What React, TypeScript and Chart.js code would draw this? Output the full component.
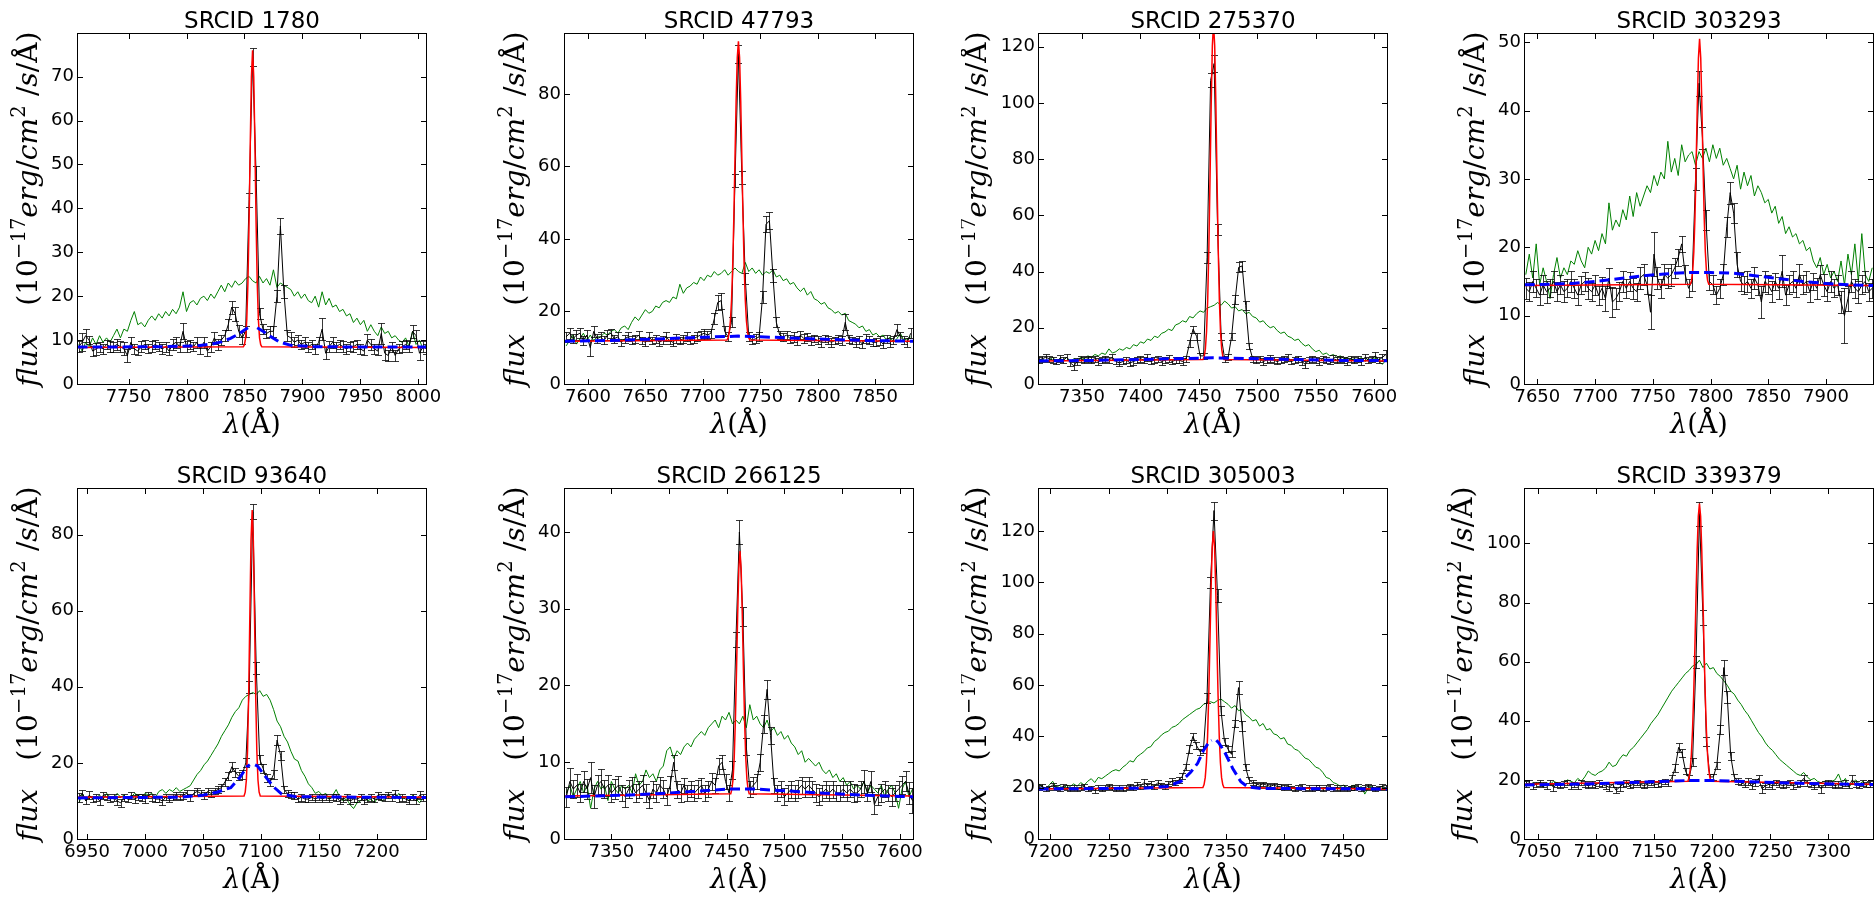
import React, { useEffect, useRef } from 'react';
import { Chart, registerables } from 'chart.js';

Chart.register(...registerables);

// ---------------- data ----------------
const STEP = 3; // wavelength sampling of the observed spectra (Å)

// Panel 1
const P1_TITLE = 'SRCID 1780';
const P1_X_RANGE = [7706.4, 8006.6];
const P1_Y_MAX = 79.7;
const P1_X_TICKS = [7750, 7800, 7850, 7900, 7950, 8000];
const P1_Y_TICKS = [0, 10, 20, 30, 40, 50, 60, 70];
const P1_START = 7707;
const P1_BLACK = [8.5, 9.5, 11, 10, 7.5, 8, 8.5, 8, 9, 8.5,
  8.5, 9, 8.5, 8, 6.5, 9.5, 8, 7.5, 8.5, 9,
  8, 8.5, 9, 8.5, 8, 8.5, 7.5, 9, 9.5, 8.5,
  12, 8.5, 9, 8.5, 9.5, 8, 9.5, 7.5, 8.5, 10.5,
  9, 10, 11, 13.5, 17.5, 16, 12, 10.5, 12, 42,
  74.5, 48, 16, 12.5, 11.5, 12, 12, 20, 36, 21,
  11, 10.5, 9.5, 10, 9, 9.5, 8.5, 9, 8, 9.5,
  12.5, 7, 8.5, 9.5, 8.5, 9, 8.5, 8, 8.5, 8.5,
  9, 8, 7.5, 10, 9, 8, 7.5, 11.5, 7, 6.5,
  8.5, 6.5, 8, 8.5, 9, 8.5, 12, 11, 7, 8.5, 8];
const P1_ERR = [1.2, 2.0, 1.5, 1.0, 1.2, 1.3, 1.1, 1.2, 1.0, 1.2,
  1.1, 1.3, 1.2, 1.5, 1.4, 1.2, 1.1, 1.0, 1.2, 1.1,
  1.0, 1.2, 1.1, 1.0, 1.2, 1.1, 1.0, 1.2, 1.3, 1.1,
  1.8, 1.2, 1.1, 1.0, 1.2, 1.1, 1.3, 1.2, 1.1, 1.4,
  1.2, 1.1, 1.2, 1.3, 1.5, 1.6, 1.4, 1.3, 1.2, 1.6,
  2.0, 1.6, 1.3, 1.2, 1.1, 1.2, 1.3, 1.3, 1.8, 1.5,
  1.2, 1.3, 1.1, 1.2, 1.0, 1.2, 1.1, 1.0, 1.2, 1.1,
  2.5, 1.4, 1.2, 1.3, 1.1, 1.0, 1.2, 1.1, 1.0, 1.2,
  1.1, 1.2, 1.0, 1.3, 1.2, 1.1, 1.0, 2.5, 1.5, 1.2,
  1.1, 1.3, 1.0, 1.2, 1.1, 1.2, 1.5, 1.3, 1.6, 1.2, 1.1];
const P1_GREEN = [9, 7.5, 9.5, 8.5, 10.5, 9, 11, 9.5, 10.5, 9.5,
  11, 12.5, 10.5, 12.5, 12, 14.5, 16.5, 13.5, 14, 13,
  14.5, 15.5, 14.5, 16, 15, 16.5, 15.5, 17, 16, 17.5,
  21, 16.5, 18.5, 19, 18, 19.5, 20, 19, 20.5, 19.5,
  21, 22.5, 21, 23, 22, 23.5, 22.5, 23, 24, 24.5,
  23.5, 23, 24.5, 23, 24, 22.5, 26, 22, 23, 22.5,
  22, 21.5, 20, 21, 19.5, 20.5, 19, 18.5, 20, 17.5,
  21, 18, 19.5, 17.5, 18, 16.5, 17, 15.5, 16, 14,
  15, 13.5, 14.5, 12, 13.5, 12, 11, 13, 11.5, 12,
  10.5, 11, 10, 9.5, 10.5, 8.5, 12, 9, 10, 8, 9];
const P1_RED_X = [7706, 7849, 7850, 7851, 7852, 7853, 7854, 7855, 7856, 7857, 7858, 7859, 7860, 7861, 7862, 7863, 7864, 7865, 8007];
const P1_RED_Y = [8.3, 8.46, 8.96, 10.5, 14.7, 23.2, 37.2, 54.7, 69.9, 76.0, 69.9, 54.7, 37.2, 23.2, 14.7, 10.5, 8.96, 8.46, 8.3];
const P1_BLUE_X = [7706, 7780, 7810, 7822, 7830, 7838, 7845, 7850, 7853, 7857, 7861, 7866, 7872, 7880, 7890, 7910, 7960, 8007];
const P1_BLUE_Y = [8.4, 8.5, 8.7, 9.1, 9.6, 10.4, 11.4, 12.3, 12.8, null, 12.8, 12.0, 10.9, 9.6, 8.8, 8.5, 8.4, 8.4];

// Panel 2
const P2_TITLE = 'SRCID 47793';
const P2_X_RANGE = [7580, 7883];
const P2_Y_MAX = 96.5;
const P2_X_TICKS = [7600, 7650, 7700, 7750, 7800, 7850];
const P2_Y_TICKS = [0, 20, 40, 60, 80];
const P2_START = 7581;
const P2_BLACK = [13, 14, 12.5, 13.5, 14, 12, 13.5, 10, 14.5, 12.5,
  13, 12, 13.5, 14, 12.5, 13, 11.5, 12.5, 13, 12,
  12.5, 13.5, 12, 11.5, 13, 12, 12.5, 11.5, 12, 13,
  12, 11.5, 12.5, 12, 12.5, 13, 12, 12.5, 13, 13.5,
  14, 13.5, 14, 18, 22.5, 23, 14.5, 13, 17, 56,
  91, 57, 29, 13, 12, 12.5, 13, 24, 44, 45,
  30, 17, 13.5, 13, 13.5, 12.5, 13, 12, 13.5, 12.5,
  13, 12, 12.5, 12, 11.5, 12.5, 12, 11.5, 12, 12.5,
  12, 17, 12.5, 12, 11.5, 12, 11, 12.5, 12, 11.5,
  11.5, 12, 11, 12.5, 11.5, 12, 15, 13, 12, 11.5, 14];
const P2_ERR = [1.3, 1.5, 1.2, 1.3, 1.4, 1.2, 1.3, 2.2, 1.5, 1.2,
  1.2, 1.1, 1.3, 1.2, 1.1, 1.2, 1.0, 1.1, 1.2, 1.1,
  1.1, 1.2, 1.0, 1.1, 1.2, 1.0, 1.1, 1.0, 1.1, 1.2,
  1.0, 1.1, 1.2, 1.0, 1.1, 1.2, 1.0, 1.1, 1.2, 1.1,
  1.2, 1.1, 1.2, 1.5, 2.0, 2.2, 1.4, 1.2, 1.4, 1.8,
  2.5, 1.8, 1.5, 1.2, 1.1, 1.2, 1.2, 1.6, 2.2, 2.4,
  1.8, 1.4, 1.2, 1.1, 1.2, 1.1, 1.3, 1.2, 1.1, 1.2,
  1.1, 1.2, 1.0, 1.1, 1.2, 1.0, 1.1, 1.2, 1.0, 1.1,
  1.2, 2.2, 1.1, 1.0, 1.2, 1.1, 1.0, 1.2, 1.1, 1.0,
  1.1, 1.2, 1.0, 1.1, 1.2, 1.1, 1.6, 1.2, 1.1, 1.2, 1.4];
const P2_GREEN = [10.5, 12, 13.5, 11, 12.5, 14, 12, 13.5, 12, 13,
  13, 14, 13.5, 14.5, 15, 14, 15.5, 16, 15, 17,
  18.5, 17.5, 19, 20.5, 19.5, 20, 21.5, 21, 22.5, 23,
  22.5, 24, 23.5, 27.5, 25, 26.5, 27, 28, 27.5, 29.5,
  28.5, 30, 29.5, 31, 30, 30.5, 31.5, 30, 31, 32,
  31, 30.5, 33.5, 31, 32, 30.5, 31.5, 30, 31, 30.5,
  31.5, 29.5, 30, 28.5, 29, 27.5, 28, 26.5, 25.5, 26.5,
  24.5, 25.5, 23.5, 23, 22, 22.5, 21, 20.5, 19.5, 20,
  19, 19.5, 17.5, 17, 16.5, 15.5, 16, 14.5, 15, 13.5,
  14, 13, 13.5, 12, 13, 11.5, 12.5, 14, 12, 12.5, 13];
const P2_RED_X = [7580, 7721, 7722, 7723, 7724, 7725, 7726, 7727, 7728, 7729, 7730, 7731, 7732, 7733, 7734, 7735, 7736, 7737, 7738, 7739, 7740, 7741, 7883];
const P2_RED_Y = [11.8, 12.1, 12.7, 14.2, 17.3, 23.0, 32.4, 45.8, 62.0, 78.0, 90.0, 94.5, 90.0, 78.0, 62.0, 45.8, 32.4, 23.0, 17.3, 14.2, 12.7, 12.1, 11.8];
const P2_BLUE_X = [7580, 7620, 7660, 7700, 7731, 7760, 7800, 7840, 7883];
const P2_BLUE_Y = [11.8, 12.0, 12.4, 12.9, 13.2, 12.9, 12.4, 12.0, 11.8];

// Panel 3
const P3_TITLE = 'SRCID 275370';
const P3_X_RANGE = [7313.2, 7610.9];
const P3_Y_MAX = 124.5;
const P3_X_TICKS = [7350, 7400, 7450, 7500, 7550, 7600];
const P3_Y_TICKS = [0, 20, 40, 60, 80, 100, 120];
const P3_START = 7313;
const P3_BLACK = [8.5, 9, 9.5, 9, 8.5, 8, 9, 8.5, 9.5, 7.5,
  6.5, 8, 9, 8.5, 9, 8.5, 9, 8, 8.5, 9,
  8.5, 9.5, 8, 7.5, 8, 8.5, 7.5, 8, 8.5, 9,
  8.5, 9.5, 8, 8.5, 9, 8, 8.5, 9, 8, 8.5,
  8.5, 8, 9, 14.5, 19.5, 17, 10, 10, 45, 108,
  114, 55, 17, 9, 9.5, 17, 30, 41.5, 42, 28,
  13.5, 9, 8.5, 9, 8, 8.5, 9, 8.5, 8, 8.5,
  9, 9.5, 8, 8.5, 9, 8, 7, 8.5, 9, 8.5,
  8, 9, 8.5, 8, 9, 8.5, 9, 8.5, 8, 9,
  8.5, 9, 8, 9.5, 8.5, 9, 10, 8.5, 9.5, 10.5];
const P3_ERR = [1.0, 1.1, 1.2, 1.0, 1.1, 1.0, 1.2, 1.1, 1.0, 1.2,
  1.4, 1.1, 1.0, 1.1, 1.0, 1.2, 1.0, 1.1, 1.0, 1.1,
  1.0, 1.1, 1.0, 1.2, 1.0, 1.1, 1.0, 1.1, 1.0, 1.1,
  1.0, 1.2, 1.0, 1.1, 1.0, 1.1, 1.0, 1.2, 1.0, 1.1,
  1.0, 1.1, 1.0, 1.2, 1.2, 1.3, 1.1, 1.0, 1.8, 2.5,
  3.0, 2.0, 1.3, 1.0, 1.1, 1.3, 1.6, 1.8, 1.8, 1.6,
  1.2, 1.0, 1.1, 1.0, 1.1, 1.0, 1.2, 1.1, 1.0, 1.1,
  1.0, 1.2, 1.0, 1.1, 1.0, 1.1, 1.2, 1.0, 1.1, 1.0,
  1.1, 1.0, 1.1, 1.0, 1.2, 1.0, 1.1, 1.0, 1.1, 1.0,
  1.1, 1.0, 1.2, 1.1, 1.0, 1.1, 1.4, 1.1, 1.2, 1.5];
const P3_GREEN = [7.5, 9, 8, 8.5, 9.5, 8, 9, 8.5, 9.5, 8,
  9, 8.5, 9.5, 9, 10, 9.5, 10.5, 10, 11, 10.5,
  12.5, 11, 11.5, 12.5, 12, 13, 12.5, 14, 13.5, 15,
  14.5, 16, 15.5, 17, 16.5, 18, 18.5, 19.5, 19, 21,
  21.5, 22.5, 22, 24, 23.5, 25, 26, 25.5, 27, 27.5,
  28, 29, 28, 29.5, 28.5, 27, 27.5, 26, 26.5, 25,
  25.5, 24, 23.5, 22, 22.5, 21, 20, 20.5, 19, 18,
  18.5, 17, 16.5, 15.5, 16, 14.5, 13.5, 14, 12.5, 11.5,
  12, 10.5, 11, 10, 10.5, 9.5, 10, 9, 9.5, 8.5,
  9, 8.5, 9.5, 8, 9, 8.5, 9.5, 8, 7, 8.5];
const P3_RED_X = [7313, 7453.5, 7454.5, 7455.5, 7456.5, 7457.5, 7458.5, 7459.5, 7460.5, 7461.5, 7462.5, 7463.5, 7464.5, 7465.5, 7466.5, 7467.5, 7468.5, 7469.5, 7470.5, 7471.5, 7611];
const P3_RED_Y = [8.2, 8.7, 9.7, 12.4, 18.4, 29.8, 48.3, 72.9, 99.4, 120.3, 128.2, 120.3, 99.4, 72.9, 48.3, 29.8, 18.4, 12.4, 9.7, 8.7, 8.2];
const P3_BLUE_X = [7313, 7360, 7400, 7440, 7462, 7490, 7530, 7570, 7611];
const P3_BLUE_Y = [8.2, 8.4, 8.7, 9.1, 9.3, 9.1, 8.7, 8.4, 8.3];

// Panel 4
const P4_TITLE = 'SRCID 303293';
const P4_X_RANGE = [7639.3, 7940.7];
const P4_Y_MAX = 51.2;
const P4_X_TICKS = [7650, 7700, 7750, 7800, 7850, 7900];
const P4_Y_TICKS = [0, 10, 20, 30, 40, 50];
const P4_START = 7640;
const P4_BLACK = [14, 13.5, 15, 14, 13, 14.5, 13.5, 14, 15, 13.5,
  14.5, 13.5, 14, 15, 14, 13, 14.5, 15, 14, 13.5,
  14.5, 13, 14, 12.5, 15.5, 12, 12.5, 13.5, 15, 14,
  15, 14, 13.5, 15.5, 16, 14.5, 10.5, 19, 15.5, 14,
  16, 15.5, 16, 17, 18.5, 20.5, 16, 14, 15, 30,
  44, 36, 24, 15, 14.5, 13, 14, 16, 23, 28,
  25, 17.5, 15, 14.5, 15, 14, 15.5, 14.5, 12, 15,
  14.5, 13.5, 15, 14, 16.5, 13, 14.5, 15, 14, 16,
  14.5, 15, 13.5, 15, 14, 16, 14.5, 13.5, 15, 14,
  14.5, 12, 10, 12.5, 15, 14, 13.5, 14.5, 15, 13.5, 14];
const P4_ERR = [1.5, 1.4, 1.6, 1.3, 1.5, 1.4, 1.6, 1.3, 1.5, 1.4,
  1.4, 1.5, 1.3, 1.6, 1.4, 1.5, 1.3, 1.4, 1.5, 1.3,
  1.5, 1.4, 1.6, 1.8, 1.5, 2.2, 1.6, 1.4, 1.5, 1.4,
  1.4, 1.5, 1.3, 1.6, 1.5, 1.4, 2.5, 3.2, 1.6, 1.4,
  1.5, 1.4, 1.6, 1.5, 1.3, 1.2, 1.4, 1.3, 1.4, 1.6,
  1.8, 1.6, 1.5, 1.3, 1.4, 1.3, 1.4, 1.5, 1.5, 1.6,
  1.5, 1.8, 1.4, 1.3, 1.5, 1.4, 1.6, 1.5, 2.4, 1.5,
  1.4, 1.5, 1.3, 1.6, 2.3, 1.5, 1.4, 1.6, 1.3, 1.5,
  1.4, 1.6, 1.5, 1.3, 1.5, 1.4, 1.6, 1.4, 1.5, 1.3,
  1.5, 1.6, 4.0, 1.8, 1.5, 1.4, 1.6, 1.4, 1.5, 1.3, 1.4];
const P4_GREEN = [16, 19, 15.5, 20.5, 14.5, 17, 15, 12.5, 16, 18.5,
  15.5, 17, 16, 18, 17.5, 19.5, 18, 17, 20, 19,
  21, 19.5, 22, 20.5, 26.5, 22.5, 24, 23, 25.5, 24,
  27.5, 24.5, 28, 26, 27.5, 29, 28, 30.5, 29, 31,
  30, 35.5, 31, 33, 30.5, 35, 32.5, 33.5, 34, 32,
  34, 33, 34.5, 32.5, 35, 33, 34.5, 32, 33, 31.5,
  30, 32, 28.5, 31, 29, 30.5, 27.5, 29, 28, 26.5,
  27, 25, 26, 23.5, 24.5, 22, 23, 21.5, 22, 20.5,
  21, 19.5, 20, 18, 17, 18.5, 16, 17.5, 15.5, 16.5,
  15, 18, 14.5, 19, 16, 20.5, 15, 22, 16, 15, 17];
const P4_RED_X = [7639, 7782.5, 7783.5, 7784.5, 7785.5, 7786.5, 7787.5, 7788.5, 7789.5, 7790.5, 7791.5, 7792.5, 7793.5, 7794.5, 7795.5, 7796.5, 7797.5, 7798.5, 7941];
const P4_RED_Y = [14.4, 14.6, 15.1, 16.4, 19.3, 24.4, 32.0, 40.6, 47.7, 50.5, 47.7, 40.6, 32.0, 24.4, 19.3, 16.4, 15.1, 14.6, 14.4];
const P4_BLUE_X = [7639, 7680, 7700, 7720, 7740, 7760, 7780, 7800, 7820, 7840, 7860, 7880, 7900, 7920, 7941];
const P4_BLUE_Y = [14.5, 14.7, 15.0, 15.4, 15.8, 16.1, 16.3, 16.3, 16.2, 15.8, 15.4, 15.0, 14.7, 14.5, 14.4];

// Panel 5
const P5_TITLE = 'SRCID 93640';
const P5_X_RANGE = [6942.2, 7242.5];
const P5_Y_MAX = 92;
const P5_X_TICKS = [6950, 7000, 7050, 7100, 7150, 7200];
const P5_Y_TICKS = [0, 20, 40, 60, 80];
const P5_START = 6943;
const P5_BLACK = [11, 12, 10, 11.5, 10.5, 11, 10, 11.5, 11, 10.5,
  11, 10, 9.5, 11, 10.5, 11.5, 10.5, 11, 11, 10.5,
  11.5, 11, 10.5, 10.5, 10, 11, 10.5, 11, 11.5, 11,
  11.5, 12, 11, 12, 12.5, 12, 11.5, 12.5, 12, 12.5,
  13, 13.5, 15, 16.5, 19, 17.5, 16.5, 17, 20, 40,
  86, 45, 21, 18.5, 16, 15, 17, 26, 22, 13,
  12, 11.5, 11.5, 10.5, 11, 10.5, 10.5, 11, 10.5, 11,
  10.5, 11, 10.5, 11, 11, 10, 10.5, 11, 10, 10.5,
  10.5, 11, 10, 10.5, 11, 10.5, 11.5, 11, 11, 11.5,
  11, 12, 10.5, 11, 10.5, 10, 11, 10, 11.5, 11];
const P5_ERR = [1.2, 1.0, 0.9, 1.0, 0.8, 0.9, 1.0, 0.9, 0.8, 0.9,
  0.9, 1.0, 1.1, 0.9, 0.8, 0.9, 1.0, 0.8, 0.9, 1.0,
  0.8, 0.9, 0.8, 0.9, 1.0, 0.8, 0.9, 0.8, 0.9, 0.8,
  0.9, 0.8, 0.9, 0.8, 0.9, 0.8, 0.9, 0.8, 0.9, 0.8,
  0.9, 1.0, 1.1, 1.1, 1.2, 1.1, 1.0, 1.1, 1.2, 1.5,
  2.0, 1.5, 1.2, 1.1, 1.0, 1.0, 1.1, 1.4, 1.2, 1.0,
  0.9, 0.8, 0.9, 0.8, 0.9, 0.8, 0.9, 0.8, 0.9, 0.8,
  0.9, 0.8, 0.9, 0.8, 0.9, 0.8, 0.9, 0.8, 0.9, 0.8,
  0.9, 0.8, 0.9, 0.8, 0.9, 0.8, 0.9, 0.8, 0.9, 0.8,
  0.9, 1.0, 0.8, 0.9, 0.8, 0.9, 0.8, 0.9, 1.0, 0.9];
const P5_GREEN = [9.5, 12, 10, 11.5, 10.5, 11, 11.5, 10.5, 12, 11,
  10.5, 12, 11, 11.5, 10.5, 11, 12, 11.5, 11, 12,
  11.5, 12, 11, 12.5, 13, 12, 13, 12.5, 13.5, 12.5,
  13, 13.5, 14, 15.5, 17, 18, 19.5, 20.5, 22, 23.5,
  25, 27, 28.5, 30, 32, 33.5, 34.5, 36.5, 37.5, 38,
  38.5, 38, 39, 37.5, 38, 36.5, 34, 31, 29.5, 27,
  25.5, 23, 21, 20.5, 18, 16.5, 14.5, 13.5, 12, 12.5,
  11.5, 12, 10.5, 11.5, 13, 11, 10, 10.5, 9, 8,
  9.5, 10, 11, 10, 10.5, 9.5, 11, 10, 10.5, 11.5,
  11, 10.5, 12, 10.5, 11, 10, 11.5, 10.5, 9.5, 11];
const P5_RED_X = [6942, 7085.5, 7086.5, 7087.5, 7088.5, 7089.5, 7090.5, 7091.5, 7092.5, 7093.5, 7094.5, 7095.5, 7096.5, 7097.5, 7098.5, 7099.5, 7243];
const P5_RED_Y = [11, 11.3, 12.3, 15.5, 23.3, 38.2, 59.0, 78.4, 86.5, 78.4, 59.0, 38.2, 23.3, 15.5, 12.3, 11.3, 11];
const P5_BLUE_X = [6942, 7030, 7050, 7062, 7074, 7082, 7088, 7090.5, 7092.5, 7095, 7097, 7105, 7111, 7118, 7130, 7243];
const P5_BLUE_Y = [10.8, 11.0, 11.5, 12.3, 13.5, 16.2, 19.0, 19.5, null, 19.5, 19.2, 16.0, 13.7, 11.8, 11.1, 10.9];

// Panel 6
const P6_TITLE = 'SRCID 266125';
const P6_X_RANGE = [7309.8, 7611.5];
const P6_Y_MAX = 45.6;
const P6_X_TICKS = [7350, 7400, 7450, 7500, 7550, 7600];
const P6_Y_TICKS = [0, 10, 20, 30, 40];
const P6_START = 7311;
const P6_BLACK = [5.5, 7.5, 6.5, 7, 6, 7.5, 6.5, 8, 5.5, 7,
  7.5, 6.5, 7, 6, 6.5, 7, 6, 5.5, 6.5, 7,
  6, 6.5, 7, 6, 5, 6.5, 6, 7, 6.5, 5.5,
  7, 10, 6.5, 6, 7, 6, 6.5, 6, 6.5, 7,
  6, 6.5, 7.5, 7, 9.5, 10, 7.5, 6, 9, 26,
  40, 29, 12, 6.5, 7, 7.5, 10, 15, 19.5, 13.5,
  7, 6, 6.5, 5.5, 6, 6.5, 6, 6.5, 7, 6.5,
  7, 6.5, 6, 5.5, 6, 6.5, 6, 6.5, 6, 6,
  6.5, 6, 6.5, 6, 6, 6.5, 7.5, 6, 7.5, 4.5,
  5.5, 6, 6.5, 6, 5.5, 6, 6.5, 7, 7.5, 6, 5];
const P6_ERR = [1.3, 1.8, 1.2, 1.5, 1.2, 1.4, 1.3, 2.0, 1.5, 1.3,
  1.6, 1.2, 1.4, 1.2, 1.3, 1.2, 1.1, 1.3, 1.2, 1.1,
  1.2, 1.1, 1.3, 1.2, 1.0, 1.1, 1.2, 1.1, 1.2, 1.1,
  1.2, 1.0, 1.1, 1.2, 1.0, 1.1, 1.0, 1.1, 1.2, 1.0,
  1.1, 1.0, 1.1, 1.0, 1.0, 0.9, 1.0, 1.1, 1.2, 1.0,
  1.6, 1.2, 1.1, 1.0, 1.1, 1.0, 1.1, 1.2, 1.2, 1.1,
  1.0, 1.1, 1.0, 1.1, 1.0, 1.1, 1.0, 1.2, 1.1, 1.0,
  1.1, 1.0, 1.2, 1.1, 1.0, 1.1, 1.0, 1.1, 1.0, 1.1,
  1.0, 1.1, 1.0, 1.2, 1.1, 1.0, 1.5, 1.1, 1.4, 1.3,
  1.1, 1.2, 1.0, 1.1, 1.2, 1.1, 1.0, 1.2, 1.3, 1.4, 1.6];
const P6_GREEN = [6, 7, 5.5, 6.5, 7.5, 6, 7, 4, 6.5, 7.5,
  6.5, 7, 5, 7.5, 6.5, 6, 7, 6.5, 7, 6,
  8.5, 7, 7.5, 9, 8, 8.5, 7.5, 9, 9.5, 11.5,
  12, 10.5, 11.5, 11, 12, 12.5, 12, 13, 13.5, 14,
  13.5, 14.5, 15, 15.5, 14.5, 16, 15.5, 16.5, 15, 15.5,
  15, 16, 14.5, 17.5, 15.5, 16, 15, 14.5, 15.5, 14,
  14.5, 13.5, 14, 13, 13.5, 12.5, 12, 11, 11.5, 10,
  10.5, 10, 9.5, 10, 9, 8.5, 9, 8, 8.5, 7.5,
  8, 7, 7.5, 6.5, 7, 6.5, 7.5, 6, 7, 6.5,
  6, 7, 5.5, 6.5, 7, 6, 4, 6.5, 7.5, 5.5, 6.5];
const P6_RED_X = [7310, 7453.5, 7454.5, 7455.5, 7456.5, 7457.5, 7458.5, 7459.5, 7460.5, 7461.5, 7462.5, 7463.5, 7464.5, 7465.5, 7466.5, 7467.5, 7468.5, 7469.5, 7612];
const P6_RED_Y = [5.6, 5.9, 6.5, 7.8, 10.6, 15.4, 22.0, 29.3, 35.2, 37.5, 35.2, 29.3, 22.0, 15.4, 10.6, 7.8, 6.5, 5.9, 5.6];
const P6_BLUE_X = [7310, 7360, 7400, 7430, 7450, 7475, 7500, 7530, 7570, 7612];
const P6_BLUE_Y = [5.5, 5.7, 6.0, 6.3, 6.5, 6.5, 6.3, 6.0, 5.7, 5.5];

// Panel 7
const P7_TITLE = 'SRCID 305003';
const P7_X_RANGE = [7190.3, 7488];
const P7_Y_MAX = 136.4;
const P7_X_TICKS = [7200, 7250, 7300, 7350, 7400, 7450];
const P7_Y_TICKS = [0, 20, 40, 60, 80, 100, 120];
const P7_START = 7190;
const P7_BLACK = [20, 20.5, 19.5, 20, 21, 20, 19.5, 20.5, 20, 19.5,
  20, 19.5, 20, 20.5, 19.5, 20, 19, 20, 19.5, 20,
  20.5, 20, 19.5, 20, 19.5, 20, 20.5, 20, 21, 20.5,
  22, 21, 21.5, 20.5, 22, 21, 20.5, 21.5, 22.5, 22,
  23, 24.5, 28, 35, 40, 36.5, 34, 35, 55, 100,
  128, 95, 50, 38, 35, 33, 45, 59, 44, 28,
  23, 22, 21.5, 21, 21.5, 21, 20.5, 21, 20.5, 20.5,
  20, 20.5, 20, 19.5, 20, 20.5, 19.5, 20, 19.5, 20,
  20, 19.5, 20, 20.5, 19.5, 20, 19.5, 20, 19.5, 20,
  20, 20.5, 19.5, 20, 20.5, 20, 19.5, 20, 20.5, 20];
const P7_ERR = [0.9, 1.0, 0.9, 0.8, 1.0, 0.9, 0.8, 0.9, 1.0, 0.9,
  0.9, 0.8, 0.9, 1.0, 0.9, 0.8, 0.9, 0.9, 0.8, 0.9,
  0.9, 1.0, 0.8, 0.9, 0.8, 0.9, 1.0, 0.9, 1.1, 0.9,
  1.2, 1.0, 1.0, 0.9, 1.0, 0.9, 1.0, 1.0, 1.1, 1.0,
  1.1, 1.1, 1.2, 1.5, 1.5, 1.3, 1.2, 1.3, 2.0, 2.0,
  3.5, 2.5, 1.8, 1.3, 1.2, 1.2, 1.3, 2.5, 1.8, 1.3,
  1.1, 1.0, 0.9, 1.0, 0.9, 1.0, 0.9, 1.0, 0.9, 0.9,
  1.0, 0.9, 0.8, 0.9, 1.0, 0.9, 0.8, 0.9, 0.9, 1.0,
  0.9, 0.8, 1.0, 0.9, 0.8, 0.9, 0.9, 1.0, 0.9, 0.8,
  0.9, 0.9, 0.8, 1.0, 0.9, 1.0, 0.9, 0.8, 0.9, 1.0];
const P7_GREEN = [21.5, 20.5, 19.5, 21, 22.5, 20, 21, 19.5, 21, 20.5,
  21.5, 20.5, 22, 21, 22.5, 23.5, 22, 24, 23.5, 24.5,
  25.5, 26.5, 27, 26.5, 28, 29, 30.5, 30, 32, 33,
  34, 35.5, 36, 38, 39, 40.5, 41.5, 42, 43.5, 44,
  45, 46.5, 47.5, 48.5, 49.5, 50.5, 51, 52.5, 53, 53.5,
  53, 54, 54.5, 53.5, 52.5, 51, 52, 50, 50.5, 48.5,
  47.5, 46, 46.5, 44, 45, 42.5, 43, 41, 40.5, 39,
  39.5, 37, 36.5, 35, 34.5, 33, 31.5, 31, 29.5, 28,
  27.5, 26, 24, 23.5, 22, 21.5, 20.5, 21, 20, 20.5,
  21, 19.5, 20.5, 17.5, 20, 20.5, 19.5, 20, 20.5, 19.5];
const P7_RED_X = [7190, 7330.5, 7331.5, 7332.5, 7333.5, 7334.5, 7335.5, 7336.5, 7337.5, 7338.5, 7339.5, 7340.5, 7341.5, 7342.5, 7343.5, 7344.5, 7345.5, 7346.5, 7347.5, 7348.5, 7488];
const P7_RED_Y = [19.5, 20.1, 21.2, 23.9, 29.7, 39.9, 55.7, 76.1, 97.4, 113.8, 120, 113.8, 97.4, 76.1, 55.7, 39.9, 29.7, 23.9, 21.2, 20.1, 19.5];
const P7_BLUE_X = [7190, 7280, 7300, 7312, 7320, 7326, 7331, 7336, 7338, 7340, 7342, 7344, 7349, 7356, 7363, 7369, 7380, 7488];
const P7_BLUE_Y = [19.5, 19.8, 20.5, 22.5, 26.0, 29.5, 34.5, 38.0, 38.5, null, 38.5, 37.5, 34.0, 27.5, 22.3, 20.3, 19.7, 19.5];

// Panel 8
const P8_TITLE = 'SRCID 339379';
const P8_X_RANGE = [7038.4, 7338.8];
const P8_Y_MAX = 118.4;
const P8_X_TICKS = [7050, 7100, 7150, 7200, 7250, 7300];
const P8_Y_TICKS = [0, 20, 40, 60, 80, 100];
const P8_START = 7039;
const P8_BLACK = [18.5, 19, 18, 18.5, 19, 18.5, 18, 19, 17.5, 18.5,
  18, 18.5, 19, 18, 18.5, 18, 19, 18.5, 18, 18.5,
  18, 19, 18.5, 18, 17.5, 18.5, 16.5, 17.5, 18.5, 19,
  18, 18.5, 19, 18.5, 18, 18.5, 19, 18.5, 18.5, 19,
  19.5, 19, 20.5, 24, 31, 29, 23, 20.5, 26, 60,
  110, 75, 33, 21, 21, 25, 37, 58, 48, 28,
  21, 19.5, 19, 18.5, 19.5, 18, 19, 20.5, 17, 18,
  18.5, 18, 19, 18.5, 18, 18.5, 19, 18, 18.5, 19,
  20.5, 19, 18.5, 18, 18.5, 17, 18.5, 19, 18.5, 18,
  18.5, 18, 19, 18, 20, 18.5, 18, 19, 18.5, 18.5];
const P8_ERR = [1.0, 0.9, 1.1, 0.9, 1.0, 0.9, 1.0, 0.9, 1.1, 0.9,
  0.9, 1.0, 0.9, 1.0, 0.9, 1.0, 0.9, 1.0, 0.9, 1.0,
  0.9, 1.0, 0.9, 1.0, 1.1, 0.9, 1.0, 1.1, 0.9, 1.0,
  0.9, 1.0, 0.9, 1.0, 0.9, 1.0, 0.9, 1.0, 0.9, 1.0,
  0.9, 1.0, 1.0, 1.3, 1.5, 1.4, 1.1, 1.0, 1.3, 2.0,
  4.0, 2.5, 1.5, 1.0, 1.1, 1.2, 1.4, 2.5, 2.0, 1.4,
  1.1, 1.0, 0.9, 1.0, 1.1, 1.0, 1.2, 1.3, 1.4, 1.0,
  0.9, 1.0, 0.9, 1.0, 0.9, 1.0, 0.9, 1.0, 0.9, 1.0,
  1.3, 1.0, 0.9, 1.0, 0.9, 1.3, 1.0, 0.9, 1.0, 0.9,
  1.0, 0.9, 1.0, 0.9, 1.5, 1.0, 0.9, 1.0, 0.9, 1.0];
const P8_GREEN = [19.5, 18, 19, 18.5, 19, 17.5, 19, 18.5, 19.5, 19,
  18.5, 19, 20, 19.5, 19, 20.5, 19.5, 21, 23, 22,
  21.5, 22.5, 23, 24, 26, 24.5, 25, 27, 28.5, 28,
  30, 31, 32.5, 34, 35.5, 37, 39, 40.5, 42, 44,
  46, 48, 50, 51.5, 53, 54.5, 56, 57, 58.5, 59,
  60.5, 58, 59.5, 57.5, 58, 56, 55, 53.5, 52, 50,
  49, 47, 45.5, 43.5, 42, 40, 38, 36, 34.5, 32.5,
  31, 30, 28.5, 27, 26, 25, 24, 23, 22, 21.5,
  22.5, 21, 20, 20.5, 19.5, 19, 19.5, 18.5, 19.5, 20,
  22, 19, 20.5, 17.5, 19, 20, 18.5, 19.5, 18, 19];
const P8_RED_X = [7038, 7179, 7180, 7181, 7182, 7183, 7184, 7185, 7186, 7187, 7188, 7189, 7190, 7191, 7192, 7193, 7194, 7195, 7196, 7197, 7198, 7199, 7339];
const P8_RED_Y = [18.5, 19.5, 20.8, 23.5, 28.5, 36.7, 48.6, 64.1, 81.4, 97.5, 109.2, 113.5, 109.2, 97.5, 81.4, 64.1, 48.6, 36.7, 28.5, 23.5, 20.8, 19.5, 18.5];
const P8_BLUE_X = [7038, 7100, 7150, 7180, 7200, 7230, 7280, 7339];
const P8_BLUE_Y = [18.3, 18.7, 19.4, 19.8, 19.8, 19.4, 18.8, 18.4];

const PANELS = [
  { title: P1_TITLE, xr: P1_X_RANGE, yMax: P1_Y_MAX, xTicks: P1_X_TICKS, yTicks: P1_Y_TICKS, start: P1_START, black: P1_BLACK, err: P1_ERR, green: P1_GREEN, redX: P1_RED_X, redY: P1_RED_Y, blueX: P1_BLUE_X, blueY: P1_BLUE_Y },
  { title: P2_TITLE, xr: P2_X_RANGE, yMax: P2_Y_MAX, xTicks: P2_X_TICKS, yTicks: P2_Y_TICKS, start: P2_START, black: P2_BLACK, err: P2_ERR, green: P2_GREEN, redX: P2_RED_X, redY: P2_RED_Y, blueX: P2_BLUE_X, blueY: P2_BLUE_Y },
  { title: P3_TITLE, xr: P3_X_RANGE, yMax: P3_Y_MAX, xTicks: P3_X_TICKS, yTicks: P3_Y_TICKS, start: P3_START, black: P3_BLACK, err: P3_ERR, green: P3_GREEN, redX: P3_RED_X, redY: P3_RED_Y, blueX: P3_BLUE_X, blueY: P3_BLUE_Y },
  { title: P4_TITLE, xr: P4_X_RANGE, yMax: P4_Y_MAX, xTicks: P4_X_TICKS, yTicks: P4_Y_TICKS, start: P4_START, black: P4_BLACK, err: P4_ERR, green: P4_GREEN, redX: P4_RED_X, redY: P4_RED_Y, blueX: P4_BLUE_X, blueY: P4_BLUE_Y },
  { title: P5_TITLE, xr: P5_X_RANGE, yMax: P5_Y_MAX, xTicks: P5_X_TICKS, yTicks: P5_Y_TICKS, start: P5_START, black: P5_BLACK, err: P5_ERR, green: P5_GREEN, redX: P5_RED_X, redY: P5_RED_Y, blueX: P5_BLUE_X, blueY: P5_BLUE_Y },
  { title: P6_TITLE, xr: P6_X_RANGE, yMax: P6_Y_MAX, xTicks: P6_X_TICKS, yTicks: P6_Y_TICKS, start: P6_START, black: P6_BLACK, err: P6_ERR, green: P6_GREEN, redX: P6_RED_X, redY: P6_RED_Y, blueX: P6_BLUE_X, blueY: P6_BLUE_Y },
  { title: P7_TITLE, xr: P7_X_RANGE, yMax: P7_Y_MAX, xTicks: P7_X_TICKS, yTicks: P7_Y_TICKS, start: P7_START, black: P7_BLACK, err: P7_ERR, green: P7_GREEN, redX: P7_RED_X, redY: P7_RED_Y, blueX: P7_BLUE_X, blueY: P7_BLUE_Y },
  { title: P8_TITLE, xr: P8_X_RANGE, yMax: P8_Y_MAX, xTicks: P8_X_TICKS, yTicks: P8_Y_TICKS, start: P8_START, black: P8_BLACK, err: P8_ERR, green: P8_GREEN, redX: P8_RED_X, redY: P8_RED_Y, blueX: P8_BLUE_X, blueY: P8_BLUE_Y },
];

// ---------------- layout ----------------
const PLOT_LEFTS = [78, 565, 1039, 1525];
const PLOT_TOPS = [34, 489];
const PLOT_W = 348;
const PLOT_H = 350;
const M_LEFT = 78;
const M_TOP = 34;
const M_RIGHT = 40;
const M_BOTTOM = 62;
const CANVAS_W = M_LEFT + PLOT_W + M_RIGHT;
const CANVAS_H = M_TOP + PLOT_H + M_BOTTOM;

const SANS = "'DejaVu Sans', 'Liberation Sans', sans-serif";
const SERIF = "'DejaVu Serif', 'Liberation Serif', serif";
const TICK_SIZE = 18;
const TITLE_SIZE = 23;

type Seg = { t?: string; it?: boolean; sup?: boolean; gap?: number };

const Y_LABEL: Seg[] = [
  { t: 'flux', it: true }, { gap: 1.0 }, { t: '(10' }, { t: '\u221217', sup: true },
  { t: 'erg', it: true }, { t: '/' }, { t: 'cm', it: true }, { t: '2', sup: true },
  { gap: 0.33 }, { t: '/' }, { t: 's', it: true }, { t: '/' }, { t: '\u00C5)' },
];
const X_LABEL: Seg[] = [{ t: '\u03BB', it: true }, { t: '(\u00C5)' }];

function segFont(s: Seg, size: number) {
  const fs = s.sup ? size * 0.7 : size;
  return `${s.it ? 'italic ' : ''}${fs}px ${SERIF}`;
}
function richWidth(ctx: CanvasRenderingContext2D, segs: Seg[], size: number) {
  let w = 0;
  for (const s of segs) {
    if (s.gap) { w += s.gap * size; continue; }
    ctx.font = segFont(s, size);
    w += ctx.measureText(s.t || '').width;
  }
  return w;
}
function drawRich(ctx: CanvasRenderingContext2D, segs: Seg[], size: number, x0: number, y0: number) {
  let x = x0;
  ctx.textAlign = 'left';
  ctx.textBaseline = 'alphabetic';
  for (const s of segs) {
    if (s.gap) { x += s.gap * size; continue; }
    ctx.font = segFont(s, size);
    ctx.fillText(s.t || '', x, s.sup ? y0 - size * 0.42 : y0);
    x += ctx.measureText(s.t || '').width;
  }
}

function SpectrumPanel({ panel, left, top }: { panel: any; left: number; top: number }) {
  const ref = useRef<HTMLCanvasElement>(null);
  useEffect(() => {
    const canvas = ref.current;
    if (!canvas) return;
    const blackData = panel.black.map((y: number, i: number) => ({ x: panel.start + i * STEP, y }));
    const greenData = panel.green.map((y: number, i: number) => ({ x: panel.start + i * STEP, y }));
    const redData = panel.redX.map((x: number, i: number) => ({ x, y: panel.redY[i] }));
    const blueData = panel.blueX.map((x: number, i: number) => ({ x, y: panel.blueY[i] }));

    const decor = {
      id: 'decor',
      afterDatasetDraw(chart: any, args: any) {
        const ds = chart.data.datasets[args.index];
        if (!ds.errs) return;
        const xs = chart.scales.x;
        const ys = chart.scales.y;
        const a = chart.chartArea;
        const ctx = chart.ctx;
        ctx.save();
        ctx.beginPath();
        ctx.rect(a.left, a.top, a.right - a.left, a.bottom - a.top);
        ctx.clip();
        ctx.strokeStyle = 'rgba(0,0,0,0.78)';
        ctx.lineWidth = 1;
        ctx.beginPath();
        ds.data.forEach((p: any, i: number) => {
          const e = ds.errs[i];
          if (e == null || p.y == null) return;
          const px = Math.round(xs.getPixelForValue(p.x)) + 0.5;
          const y1 = Math.round(ys.getPixelForValue(p.y + e)) + 0.5;
          const y2 = Math.round(ys.getPixelForValue(p.y - e)) + 0.5;
          ctx.moveTo(px, y1); ctx.lineTo(px, y2);
          ctx.moveTo(px - 3.5, y1); ctx.lineTo(px + 3.5, y1);
          ctx.moveTo(px - 3.5, y2); ctx.lineTo(px + 3.5, y2);
        });
        ctx.stroke();
        ctx.restore();
      },
      afterDraw(chart: any) {
        const ctx = chart.ctx;
        const a = chart.chartArea;
        const xs = chart.scales.x;
        const ys = chart.scales.y;
        ctx.save();
        // frame
        ctx.strokeStyle = '#000';
        ctx.lineWidth = 1;
        ctx.strokeRect(a.left - 0.5, a.top - 0.5, a.right - a.left + 1, a.bottom - a.top + 1);
        // inward ticks on all four sides
        ctx.beginPath();
        const TL = 5;
        panel.xTicks.forEach((v: number) => {
          const px = Math.round(xs.getPixelForValue(v)) + 0.5;
          ctx.moveTo(px, a.bottom); ctx.lineTo(px, a.bottom - TL);
          ctx.moveTo(px, a.top); ctx.lineTo(px, a.top + TL);
        });
        panel.yTicks.forEach((v: number) => {
          const py = Math.round(ys.getPixelForValue(v)) + 0.5;
          ctx.moveTo(a.left, py); ctx.lineTo(a.left + TL, py);
          ctx.moveTo(a.right, py); ctx.lineTo(a.right - TL, py);
        });
        ctx.stroke();
        // title
        ctx.fillStyle = '#000';
        ctx.font = `${TITLE_SIZE}px ${SANS}`;
        ctx.textAlign = 'center';
        ctx.textBaseline = 'alphabetic';
        ctx.fillText(panel.title, (a.left + a.right) / 2, a.top - 6);
        // x label
        const xSize = 27;
        const xw = richWidth(ctx, X_LABEL, xSize);
        drawRich(ctx, X_LABEL, xSize, (a.left + a.right) / 2 - xw / 2, a.bottom + 49);
        // y label (rotated)
        ctx.font = `${TICK_SIZE}px ${SANS}`;
        let maxTick = 0;
        panel.yTicks.forEach((v: number) => { maxTick = Math.max(maxTick, ctx.measureText(String(v)).width); });
        const w27 = richWidth(ctx, Y_LABEL, 27);
        const target = a.bottom - a.top + 5;
        const ySize = Math.max(20, Math.min(34, 27 * target / w27));
        const yw = richWidth(ctx, Y_LABEL, ySize);
        const baseX = a.left - maxTick - 4 - 8 - ySize * 0.22;
        ctx.translate(baseX, (a.top + a.bottom) / 2);
        ctx.rotate(-Math.PI / 2);
        drawRich(ctx, Y_LABEL, ySize, -yw / 2, 0);
        ctx.restore();
      },
    };

    const tickFont = { family: SANS, size: TICK_SIZE };
    const chart = new Chart(canvas, {
      type: 'line',
      data: {
        datasets: [
          { label: 'blue', data: blueData, borderColor: '#0000ff', borderWidth: 3, borderDash: [10, 5], pointRadius: 0, order: 0, spanGaps: false, tension: 0, fill: false } as any,
          { label: 'red', data: redData, borderColor: '#ff0000', borderWidth: 1.5, pointRadius: 0, order: 1, tension: 0, fill: false } as any,
          { label: 'black', data: blackData, errs: panel.err, borderColor: '#000000', borderWidth: 1, pointRadius: 0, order: 2, tension: 0, fill: false } as any,
          { label: 'green', data: greenData, borderColor: '#008000', borderWidth: 1, pointRadius: 0, order: 3, tension: 0, fill: false } as any,
        ],
      },
      options: {
        responsive: false,
        animation: false,
        events: [],
        layout: { padding: { left: 0, top: M_TOP, right: M_RIGHT, bottom: 0 } },
        plugins: { legend: { display: false }, tooltip: { enabled: false }, title: { display: false } },
        scales: {
          x: {
            type: 'linear',
            min: panel.xr[0],
            max: panel.xr[1],
            afterBuildTicks: (s: any) => { s.ticks = panel.xTicks.map((v: number) => ({ value: v })); },
            afterFit: (s: any) => { s.height = M_BOTTOM; },
            grid: { display: false, drawTicks: false },
            border: { display: false },
            ticks: { font: tickFont, color: '#000', padding: 3, maxRotation: 0, minRotation: 0, autoSkip: false, callback: (v: any) => String(v) },
          },
          y: {
            type: 'linear',
            min: 0,
            max: panel.yMax,
            afterBuildTicks: (s: any) => { s.ticks = panel.yTicks.map((v: number) => ({ value: v })); },
            afterFit: (s: any) => { s.width = M_LEFT; },
            grid: { display: false, drawTicks: false },
            border: { display: false },
            ticks: { font: tickFont, color: '#000', padding: 4, autoSkip: false, callback: (v: any) => String(v) },
          },
        },
      } as any,
      plugins: [decor],
    });
    return () => chart.destroy();
  }, [panel]);
  return (
    <canvas
      ref={ref}
      width={CANVAS_W}
      height={CANVAS_H}
      style={{ position: 'absolute', left, top, width: CANVAS_W, height: CANVAS_H }}
    />
  );
}

export default function App() {
  return (
    <div style={{ position: 'fixed', left: 0, top: 0, width: 1876, height: 897, background: '#ffffff', overflow: 'hidden' }}>
      {PANELS.map((p, i) => (
        <SpectrumPanel
          key={i}
          panel={p}
          left={PLOT_LEFTS[i % 4] - M_LEFT}
          top={PLOT_TOPS[Math.floor(i / 4)] - M_TOP}
        />
      ))}
    </div>
  );
}
